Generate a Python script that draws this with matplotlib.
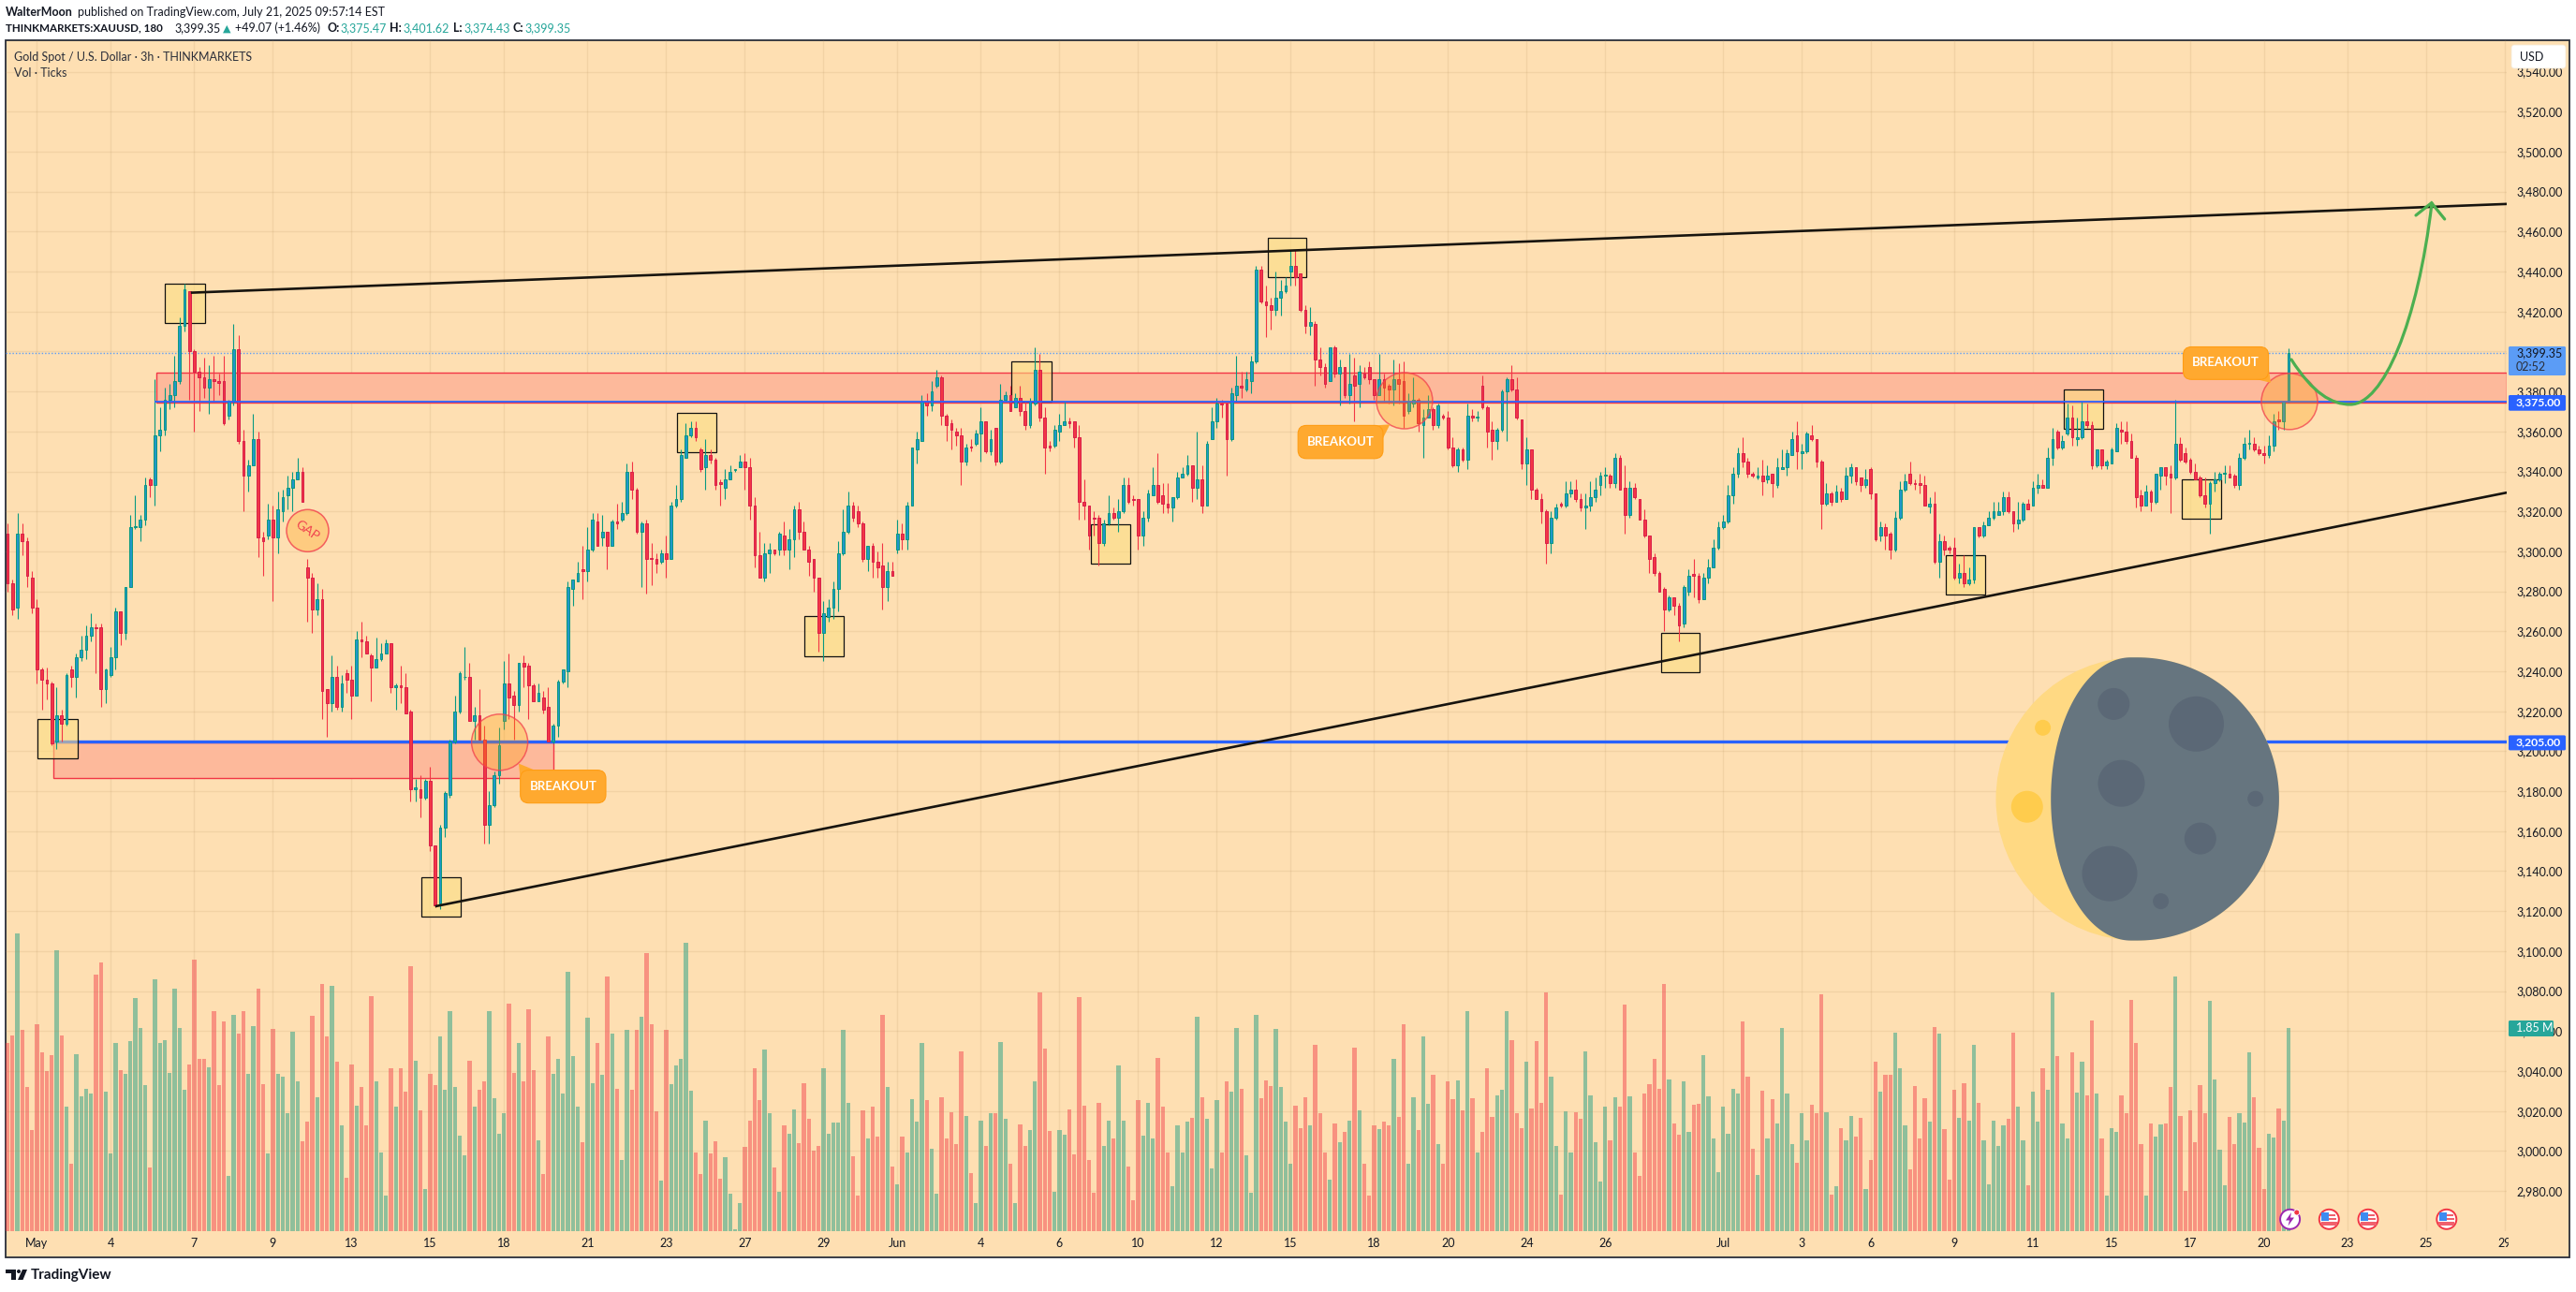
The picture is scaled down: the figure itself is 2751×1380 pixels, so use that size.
import numpy as np
import matplotlib
matplotlib.use("Agg")
import matplotlib.pyplot as plt
from matplotlib.patches import Rectangle, Circle, Polygon, FancyBboxPatch, PathPatch
from matplotlib.path import Path
from matplotlib.transforms import Affine2D

plt.rcParams['font.family'] = ['Lato', 'DejaVu Sans']

# 3h candles, ten per row
opens = [
    3309,3284,3272,3309,3305,3287,3272,3241,3236,3234,
    3205,3218,3214,3241,3237,3247,3251,3258,3262,3262,
    3231,3238,3247,3270,3259,3282,3312,3312,3316,3336,
    3333,3358,3361,3376,3378,3385,3413,3430,3400,3390,
    3387,3382,3386,3385,3385,3368,3375,3401,3355,3338,
    3343,3356,3307,3308,3316,3307,3320,3328,3332,3336,
    3340,3292,3287,3271,3276,3231,3224,3237,3222,3239,
    3236,3228,3256,3255,3248,3242,3246,3249,3254,3232,
    3233,3232,3220,3181,3181,3177,3185,3153,3124,3162,
    3178,3205,3220,3237,3237,3215,3218,3206,3163,3173,
    3188,3215,3234,3228,3223,3244,3243,3233,3225,3227,
    3222,3205,3213,3235,3240,3281,3285,3291,3290,3301,
    3315,3307,3310,3303,3315,3316,3319,3340,3331,3310,
    3314,3296.5,3296,3295,3299,3296,3323,3326,3347,3358,
    3362,3351,3342,3348,3346,3334.5,3332,3336,3340.5,3342,
    3345,3342,3323,3298,3287,3299,3301,3301,3308,3301,
    3306,3321,3310,3301,3296,3287,3259,3267,3272,3281,
    3299,3310,3323,3320,3314,3296,3303,3295,3293,3282,
    3290,3301,3309,3306,3323,3351,3355,3375,3373,3383,
    3387,3368,3364,3360,3358,3345,3352.5,3354,3359,3365,
    3350,3362,3345,3376,3378,3372,3377,3370,3363,3374,
    3391,3367,3353,3353,3360,3363,3365,3365,3357,3325,
    3323,3317,3317,3304,3314,3319,3317,3320,3333,3326,
    3326,3308,3317,3328,3333,3328,3324,3322,3327,3337,
    3339,3343,3332,3336,3323,3356,3365,3374,3374,3356,
    3378,3383,3381,3385,3395,3441,3425,3423,3421,3427,
    3430,3440,3443,3439,3421,3413,3414,3396,3392,3385,
    3402,3389,3392,3378,3388,3384,3389,3392,3386,3378,
    3386,3383,3381,3386,3385,3370,3374,3376,3363,3367,
    3371,3363,3368,3367,3352,3343,3351,3346,3368,3367,
    3383,3372,3361,3355,3361,3380,3386,3381,3366,3344,
    3351,3331,3326,3320,3304,3317,3324,3323,3329,3331,
    3326,3322,3323,3327,3333,3338,3338,3334,3347,3332,
    3318,3332,3326,3316,3308,3297,3289,3281,3271,3277,
    3273,3264,3280,3288.5,3288,3276,3287,3292,3302,3312,
    3315,3328,3339,3349,3345,3339,3337,3338,3336,3339,
    3333,3341,3342,3348,3358,3349,3350,3358,3356,3345,
    3324,3329,3325,3330,3326,3338,3342,3337,3333,3341,
    3329,3308,3312,3309,3301,3317,3331,3339,3334,3334,
    3333,3322.5,3324,3295,3305,3302,3302,3287,3289,3284,
    3286,3312,3308,3313,3317,3318,3320,3327,3320,3314,
    3316,3324,3323,3332,3333,3332,3347,3360,3352,3359,
    3367,3356,3357,3365,3363,3343,3351,3343,3344,3350,
    3361,3360,3355,3347,3328,3323,3330,3325,3338,3342,
    3339,3337,3354,3349,3346,3340,3337,3328,3324,3334,
    3336,3339,3339,3338,3333,3347,3354,3354,3351,3349,
    3348,3353,3366,3365,3375.47]
closes = [
    3284,3271,3309,3305,3288,3272,3241,3236,3234,3204,
    3218,3214,3238,3237,3247,3251,3258,3262,3261.5,3231,
    3241,3247,3270,3259,3282,3312,3312.5,3316,3333,3333,
    3358,3361,3376,3378,3385,3413,3431,3400,3390,3387,
    3382,3386,3385,3384.5,3364,3375,3401,3355,3338,3343,
    3356,3307,3305,3316,3307,3321,3327,3332,3336,3340,
    3325,3287,3271,3276,3230,3224,3237,3222,3234,3236,
    3228,3256,3255,3249,3242,3246,3249,3254,3232,3233,
    3232,3219,3181,3182,3177,3185,3153,3123,3162,3179,
    3205,3220,3239,3237,3215,3218,3206,3163,3173,3188,
    3203,3234,3227,3223,3244,3242.5,3233,3225,3229,3221,
    3205,3213,3235,3241,3282,3286,3289,3290,3301,3316,
    3303,3310,3303,3315,3314,3319,3340,3331,3310,3314,
    3296,3296,3294,3299,3296,3323,3326,3348,3358,3362,
    3357,3341,3348,3346,3333,3333.5,3336,3340,3341,3345,
    3342,3323,3298,3287,3299,3301,3299,3309,3301,3306,
    3321,3310,3301,3295,3287,3259,3269,3272,3281,3299,
    3310,3323,3317,3314,3296,3303,3295,3292,3282,3290,
    3288,3309,3306,3323,3352,3356,3375,3373,3380,3387,
    3368,3363,3361,3358,3345,3352,3352,3359,3365,3350,
    3356,3345,3376,3378,3370,3377,3370,3363,3375,3391,
    3367,3352,3352,3361,3363,3365,3364,3357,3325,3323,
    3308,3316.5,3304,3314,3319,3317,3320,3333,3325,3325.5,
    3308,3317,3329,3333,3325,3324,3322,3327,3337,3339,
    3343,3332,3336,3323,3354,3365,3374,3373.5,3356,3379,
    3383,3382,3386,3395,3441,3425,3423,3421,3427,3430,
    3433,3443,3437,3421,3413,3414.5,3396,3392,3384,3402,
    3389,3392,3378,3384,3383,3390,3387,3386,3378,3386,
    3382,3381,3386,3384,3368,3375,3376,3364,3367,3371,
    3363,3373,3367,3352,3343,3351,3346,3368,3367,3367.5,
    3372,3360,3355,3361,3380,3386,3381,3367,3344,3351,
    3331,3326,3320,3304,3317,3322,3323,3329,3331,3326,
    3322,3323,3327,3331,3338,3338.5,3334,3347,3331,3318,
    3332,3327,3316,3308,3296,3289,3280,3271,3277,3273,
    3263,3282,3288,3288,3276,3287,3292,3302,3312,3315,
    3328,3339,3349,3345,3339,3338,3338,3335,3338,3334,
    3342,3342,3349,3356,3350,3350,3359,3356,3345,3324,
    3329,3325,3330,3326,3338,3342,3335,3333,3336,3329,
    3306,3312,3308,3301,3317,3331,3335,3334,3333.5,3333,
    3323,3324,3295,3305,3301,3301,3287,3289,3284,3286,
    3312,3308,3313,3317,3320,3320,3327,3320,3314,3316,
    3324,3321,3332,3333,3332,3347,3356,3352,3355,3367,
    3357,3357,3365,3363,3343,3351,3343,3345,3351,3362,
    3360,3355,3347,3327,3323,3330,3325,3339,3342,3338,
    3337,3354,3346,3345,3340,3336,3328,3324,3334,3336,
    3339,3339.5,3337,3333,3347,3354,3354.5,3351,3349,3348,
    3353,3365,3365,3375,3399.35]
highs = [
    3314,3286,3319,3314,3307,3290,3276,3242,3242,3235,
    3232,3221,3239,3243,3249,3258,3263,3269,3264,3264,
    3241.5,3252,3272,3270,3282,3318,3328,3318,3337,3337,
    3386,3372,3382,3384,3398,3417,3434,3430,3401,3392,
    3397,3393,3398,3389,3398,3376,3414,3408,3361,3346,
    3369,3360,3310,3324,3323,3330,3331,3338,3340,3347,
    3342,3296,3289,3284,3281,3231,3248,3243,3238,3241,
    3243,3260,3265,3258,3249,3257,3254,3256,3254,3234,
    3243,3239,3221,3186,3188,3186,3192,3153,3163,3180,
    3206,3228,3240,3252,3244,3222,3231,3213,3180,3190,
    3212,3245,3249,3230,3244,3248,3244,3234,3234,3230,
    3232,3214,3236,3241,3285,3286,3295,3303,3312,3319,
    3319,3318,3310,3316,3324,3325,3344,3345,3332,3315,
    3316,3304,3299,3301,3308,3325,3333,3351,3364,3365,
    3365,3352,3356,3351,3347,3336,3341,3343,3341,3348,
    3349,3347,3327,3310,3304,3304,3301,3310,3315,3311,
    3323,3325,3315,3303,3296,3287,3275,3276,3285,3305,
    3321,3330,3325,3323,3315,3303,3304,3300,3304,3295,
    3295,3316,3314,3325,3352,3360,3378,3379,3385,3391,
    3388,3369,3366,3362,3362,3354,3356,3361,3372,3365,
    3361,3362,3384,3380,3383,3379,3383,3375,3377,3402,
    3399,3372,3355,3363,3369,3375,3367,3365,3363,3336,
    3323,3320,3318,3316,3328,3322,3326,3337,3337,3328,
    3326,3320,3331,3342,3349,3334,3334,3327,3340,3342,
    3348,3343,3360,3343,3355,3372,3377,3376,3374,3382,
    3398,3390,3390,3398,3443,3443,3433,3427,3440,3436,
    3437,3451,3451,3439,3423,3422,3415,3402,3394,3402,
    3403,3396,3392,3399,3397,3393,3392,3395,3386,3399,
    3389,3384,3396,3394,3395,3379,3387,3377,3371,3378,
    3372,3374,3369,3370,3357,3352,3352,3374,3371,3370,
    3388,3373,3365,3362,3381,3387,3393,3387,3366,3357,
    3351,3332,3329,3321,3320,3324,3325,3335,3335,3336,
    3329,3329,3335,3337,3340,3342,3339,3349,3348,3343,
    3335,3334,3326,3321,3308,3299,3290,3282,3278,3277,
    3274,3283,3291,3296,3289,3289,3296,3306,3315,3318,
    3333,3342,3352,3357,3347,3340,3342,3346,3343,3339,
    3347,3351,3351,3360,3365,3354,3360,3363,3356,3346,
    3334,3330,3333,3332,3342,3344,3342,3337,3341,3342,
    3329,3315,3314,3310,3320,3335,3339,3345,3336,3339,
    3338,3327,3330,3309,3308,3303,3307,3294,3298,3292,
    3312,3312,3315,3320,3325,3325,3330,3330,3320,3325,
    3325,3326,3335,3339,3336,3352,3362,3361,3358,3374,
    3373,3367,3375,3374,3365,3351,3351,3346,3352,3364,
    3365,3365,3359,3348,3331,3333,3331,3339,3342,3342,
    3343,3376,3357,3352,3347,3344,3338,3337,3335,3340,
    3340,3343,3343,3339,3349,3357,3361,3357,3353,3353,
    3358,3369,3370,3375,3401.62]
lows = [
    3280,3268,3266,3298,3282,3269,3234,3221,3226,3203,
    3201,3205,3213,3232,3227,3245,3246,3255,3239,3222,
    3224,3237,3241,3253,3256,3282,3311,3305,3313,3327,
    3323,3350,3358,3371,3372,3384,3410,3376,3360,3370,
    3377,3369,3375,3378,3363,3366,3373,3354,3320,3330,
    3343,3297,3288,3306,3275,3299,3315,3321,3320,3336,
    3325,3265,3259,3268,3216,3207,3220,3221,3220,3229,
    3216,3228,3247,3249,3225,3242,3245,3249,3229,3221,
    3224,3219,3175,3175,3167,3176,3150,3122,3121,3157,
    3177,3204,3219,3236,3215,3206,3206,3154,3154,3172,
    3184,3211,3216,3206,3220,3232,3216,3225,3225,3219,
    3205,3204,3207,3234,3232,3273,3285,3276,3285,3300,
    3303,3303,3291,3303,3311,3315,3318,3326,3309,3282,
    3279,3283,3289,3294,3287,3296,3322,3325,3347,3357,
    3355,3340,3331,3344,3331,3323,3326,3336,3340,3342,
    3331,3316,3292,3287,3285,3289,3298,3298,3298,3291,
    3297,3306,3301,3288,3280,3250,3245,3265,3266,3270,
    3298,3309,3315,3312,3295,3290,3287,3287,3271,3275,
    3288,3299,3301,3301,3323,3344,3355,3368,3370,3382,
    3363,3355,3351,3353,3333,3343,3350,3353,3345,3349,
    3348,3343,3344,3375,3370,3372,3368,3361,3362,3373,
    3365,3339,3350,3352,3355,3363,3362,3352,3316,3316,
    3301,3308,3293,3303,3313,3316,3310,3319,3324,3323,
    3301,3303,3315,3328,3324,3319,3319,3315,3326,3337,
    3338,3325,3326,3319,3323,3356,3362,3367,3338,3355,
    3375,3377,3380,3379,3394,3424,3407,3411,3418,3418,
    3429,3433,3433,3420,3409,3408,3383,3388,3382,3385,
    3387,3373,3377,3374,3365,3372,3386,3384,3376,3378,
    3375,3374,3373,3374,3362,3369,3372,3360,3347,3367,
    3361,3362,3366,3351,3342,3340,3345,3341,3365,3365,
    3371,3352,3346,3351,3360,3355,3380,3366,3341,3333,
    3326,3326,3314,3294,3299,3316,3322,3322,3327,3325,
    3320,3311,3320,3325,3328,3332,3332,3332,3331,3309,
    3317,3326,3316,3307,3289,3288,3280,3260,3270,3268,
    3255,3262,3278,3277,3274,3276,3284,3292,3301,3311,
    3314,3324,3337,3342,3337,3337,3336,3328,3334,3327,
    3332,3341,3338,3348,3341,3341,3349,3355,3342,3311,
    3323,3323,3325,3325,3326,3334,3333,3330,3332,3326,
    3305,3305,3301,3296,3300,3316,3330,3333,3331,3329,
    3323,3319,3294,3287,3298,3299,3286,3284,3282,3283,
    3284,3307,3307,3313,3316,3318,3318,3319,3310,3311,
    3315,3321,3323,3329,3332,3332,3343,3351,3351,3358,
    3353,3353,3356,3362,3341,3342,3341,3341,3344,3350,
    3354,3354,3347,3322,3320,3323,3320,3324,3331,3333,
    3319,3336,3345,3344,3339,3336,3327,3322,3309,3330,
    3335,3334,3337,3332,3331,3346,3351,3350,3348,3344,
    3347,3350,3361,3361,3374.43]
# volume in millions of ticks
volumes = [
    1.71,1.78,2.71,1.83,1.31,0.92,1.88,1.63,1.46,1.60,
    2.56,1.78,1.13,0.61,1.61,1.23,1.30,1.25,2.34,2.45,
    1.27,0.71,1.71,1.47,1.43,1.73,2.12,1.85,1.33,0.58,
    2.29,1.71,1.74,1.44,2.21,1.85,1.29,1.52,2.47,1.57,
    1.57,1.49,2.00,1.33,1.91,0.50,1.97,1.80,2.00,1.43,
    1.87,2.21,1.34,0.71,1.84,1.43,1.41,1.07,1.82,1.36,
    0.82,1.00,1.96,1.22,2.25,1.77,2.23,1.54,0.96,0.49,
    1.52,1.14,1.31,0.96,2.14,1.36,0.72,0.32,1.48,1.13,
    1.48,1.27,2.41,1.55,1.10,0.38,1.43,1.33,1.77,1.29,
    2.00,1.31,0.87,0.69,1.55,1.13,1.29,1.36,2.00,1.21,
    0.89,1.07,2.07,1.44,1.71,1.36,2.02,1.47,0.83,0.52,
    1.77,1.43,1.57,1.25,2.36,1.59,1.13,0.81,1.94,1.35,
    1.71,1.42,2.32,1.80,1.30,0.65,1.83,1.29,1.83,1.95,
    2.53,1.88,1.09,0.46,1.83,1.34,1.51,1.57,2.63,1.28,
    0.72,0.52,1.01,0.71,0.82,0.48,0.67,0.34,0.02,0.26,
    0.77,1.01,1.48,1.19,1.65,1.07,0.58,0.36,0.96,0.89,
    1.11,0.80,1.35,1.02,0.73,0.78,1.48,0.89,0.99,0.99,
    1.83,1.17,0.68,0.32,1.10,0.84,1.13,0.86,1.97,1.31,
    0.59,0.43,0.86,0.72,1.20,1.00,1.71,1.19,0.75,0.34,
    1.22,0.84,1.08,0.79,1.64,1.05,0.53,0.26,1.01,0.78,
    1.07,1.07,1.72,1.02,0.61,0.26,0.97,0.78,0.92,1.36,
    2.17,1.66,0.91,0.36,0.92,0.88,1.11,0.70,2.13,1.14,
    0.65,0.35,1.17,0.78,1.01,0.84,1.51,1.01,0.59,0.28,
    1.19,0.87,1.17,0.84,1.58,1.13,0.72,0.41,0.96,0.72,
    1.00,1.03,1.95,1.22,1.02,0.57,1.19,0.72,1.36,1.27,
    1.85,1.30,0.69,0.35,1.97,1.21,1.37,1.32,1.84,1.31,
    1.00,0.61,1.14,0.94,1.22,0.96,1.70,1.07,0.72,0.47,
    0.98,0.81,0.90,1.01,1.67,1.10,0.61,0.32,0.96,0.93,
    1.00,0.96,1.57,1.04,1.88,0.61,1.22,0.92,1.77,1.16,
    1.42,0.79,0.61,1.36,1.20,1.37,1.10,2.00,1.21,0.72,
    0.90,1.48,1.04,1.24,1.29,2.00,1.74,1.07,0.94,1.54,
    1.12,1.73,1.17,2.17,1.41,0.78,0.33,1.09,0.72,1.08,
    1.02,1.64,1.24,0.81,0.45,1.13,0.83,1.22,1.13,2.06,
    1.23,0.72,0.50,1.25,1.34,1.57,1.30,2.25,1.38,0.98,
    0.88,1.36,0.90,1.15,1.16,1.60,1.23,0.84,0.54,1.13,
    0.89,1.30,1.25,1.91,1.41,0.75,0.51,1.28,0.84,1.20,
    0.98,1.85,1.25,0.79,0.62,1.07,0.83,1.15,1.07,2.16,
    1.08,0.33,0.41,0.94,0.83,1.05,0.86,1.03,0.38,0.65,
    1.54,1.27,1.42,1.42,1.81,1.48,0.96,0.56,1.32,0.84,
    1.21,1.00,1.86,1.80,0.93,0.47,1.29,1.03,1.35,1.01,
    1.70,1.17,0.83,0.43,1.01,0.78,0.96,1.02,1.81,1.13,
    0.83,0.42,1.27,1.00,1.48,1.29,2.17,1.59,0.98,0.84,
    1.63,1.26,1.54,1.24,1.92,1.25,0.84,0.32,0.94,0.90,
    1.24,1.07,2.11,1.71,0.79,0.32,0.98,0.86,0.97,0.98,
    1.31,2.32,1.05,0.37,1.10,0.81,1.33,1.07,2.10,1.38,
    0.74,0.42,1.04,0.79,1.07,0.99,1.63,1.22,0.76,0.38,
    0.89,0.85,1.12,1.01,1.85]

price_ticks = list(range(2980, 3541, 20))
time_pos = [6, 21, 38, 54, 70, 86, 101, 118, 134, 150, 166, 181, 198, 214, 230, 246, 261,
            278, 293, 309, 325, 349, 365, 379, 396, 412, 428, 444, 459, 476, 492, 508]
time_labels = ['May', '4', '7', '9', '13', '15', '18', '21', '23', '27', '29', 'Jun', '4', '6', '10',
               '12', '15', '18', '20', '24', '26', 'Jul', '3', '6', '9', '11', '15', '17', '20',
               '23', '25', '29']

# drawings on the chart, in bar index and price
level_prices = [3375, 3205]
level_start = [30, 9.4]
zone_left = [30.2, 9.4]
zone_right = [508.4, 111]
zone_low = [3374.6, 3186.5]
zone_high = [3389.3, 3204.3]
trend_x = [[37.3, 508.4], [87, 508.4]]
trend_y = [[3429.4, 3473.8], [3122.4, 3329.4]]
box_left = [32, 6.1, 136.2, 84.1, 162.1, 204.2, 220.4, 256.3, 336.4, 394.3, 418.2, 442.2]
box_right = [40.2, 14.3, 144.2, 92.1, 170.1, 212.4, 228.4, 264.2, 344.2, 402.3, 426.2, 450.2]
box_top = [3434.0, 3215.9, 3369.3, 3136.8, 3267.5, 3395.1, 3313.6, 3456.7, 3259.0, 3298.1, 3380.8, 3335.9]
box_bottom = [3414.3, 3196.3, 3349.7, 3117.1, 3247.6, 3374.9, 3293.7, 3437.0, 3239.3, 3278.3, 3361.1, 3316.2]
last_price = 3399.35

W, H = 2751, 1380
first_x = 8
step = 5.25

BG = '#fedfb2'
TEXT = '#131722'
UP = '#089981'
DOWN = '#f23645'
BLUE = '#2962ff'

fig = plt.figure(figsize=(W / 100, H / 100), dpi=100, facecolor='white')
ax = fig.add_axes([6 / W, 1 - 1315 / H, (2677 - 6) / W, (1315 - 43) / H])
ax.patch.set_alpha(0)

# pixel coordinates of the picture, y going down
pix = Affine2D().scale(1, -1).translate(0, H)

fig.add_artist(Rectangle((6, 43), 2738, 1300, transform=pix, facecolor=BG, edgecolor='#2a2e39', lw=1.3, zorder=-5))

# volume shares the pane, 1.85M is 217 px tall
vol_ax = ax.twinx()
vol_ax.set_ylim(0, 1272 * 1.85 / 217)
vol_ax.axis('off')
vol_ax.set_zorder(ax.get_zorder() - 1)

ax.set_xlim((6 - first_x) / step, (2677 - first_x) / step)
ax.set_ylim(2959.9, 3555.7)
ax.yaxis.tick_right()
ax.set_yticks(price_ticks)
ax.set_yticklabels([f'{p:,.2f}' for p in price_ticks])
ax.set_xticks(time_pos)
ax.set_xticklabels(time_labels)
ax.tick_params(axis='y', length=0, pad=7.2, labelsize=9, labelcolor=TEXT)
ax.tick_params(axis='x', length=0, pad=5.2, labelsize=9, labelcolor=TEXT)
ax.grid(True, color='#b08a5a', alpha=0.15, lw=1)
ax.set_axisbelow(True)
for s in ax.spines.values():
    s.set_visible(False)

idx = np.arange(len(closes))
opens_a = np.array(opens)
closes_a = np.array(closes)
is_up = closes_a >= opens_a

vol_colors = np.where(is_up, UP, DOWN)
vol_ax.bar(idx, volumes, width=0.8, color=vol_colors, alpha=0.45, linewidth=0)

# zones go under the candles
for z in range(2):
    ax.add_patch(Rectangle((zone_left[z], zone_low[z]), zone_right[z] - zone_left[z], zone_high[z] - zone_low[z],
                           facecolor='#fdb99b', edgecolor=DOWN, lw=1.0, zorder=3))
for b in range(len(box_left)):
    ax.add_patch(Rectangle((box_left[b], box_bottom[b]), box_right[b] - box_left[b], box_top[b] - box_bottom[b],
                           facecolor=(0.99, 0.87, 0.5, 0.55), edgecolor='#111111', lw=0.9, zorder=3.1))

# candles
ax.vlines(idx, lows, highs, colors=np.where(is_up, UP, DOWN), lw=0.8, zorder=4)
body_bottom = np.minimum(opens_a, closes_a)
body_height = np.abs(closes_a - opens_a)
ax.bar(idx[is_up], body_height[is_up], bottom=body_bottom[is_up], width=0.5,
       color='#2196c9', edgecolor=UP, lw=0.7, zorder=4.1)
ax.bar(idx[~is_up], body_height[~is_up], bottom=body_bottom[~is_up], width=0.5,
       color=DOWN, edgecolor='#d81e4a', lw=0.7, zorder=4.1)

# level lines, last price, trend lines
ax.hlines(level_prices[0], level_start[0], zone_right[0], color=BLUE, lw=1.3, zorder=4.5)
ax.hlines(level_prices[1], level_start[1], zone_right[0], color=BLUE, lw=2.4, zorder=3.05)
ax.hlines(last_price, ax.get_xlim()[0], zone_right[0], color='#5b9cf6', lw=1, ls=(0, (1, 1.5)), zorder=2.9)
for t in range(2):
    ax.plot(trend_x[t], trend_y[t], color='#17140f', lw=1.9, zorder=5, solid_capstyle='butt')

# circles
for cx, cy in [(533.6, 792.8), (1499.9, 428), (2445, 428.8)]:
    ax.add_patch(Circle((cx, cy), 30, transform=pix, facecolor=(1, 0.6, 0, 0.28), edgecolor=(0.95, 0.25, 0.3, 0.75),
                        lw=1.1, zorder=5.2, clip_on=False))
ax.add_patch(Circle((328.5, 566.8), 22.5, transform=pix, facecolor=(1, 0.6, 0, 0.28), edgecolor=(0.95, 0.25, 0.3, 0.8),
                    lw=1.1, zorder=5.2, clip_on=False))
ax.text(328.5, 566.8, 'GAP', transform=pix, color='#f0444f', fontsize=10, rotation=-35,
        ha='center', va='center', zorder=5.3, rotation_mode='anchor')


def bubble(x0, y0, x1, y1, tip, base):
    ax.add_patch(Polygon([tip, base[0], base[1]], transform=pix, facecolor='#ffa92f', edgecolor='none',
                         zorder=5.4, clip_on=False))
    ax.add_patch(FancyBboxPatch((x0 + 7, y0 + 7), x1 - x0 - 14, y1 - y0 - 14, boxstyle='round,pad=7,rounding_size=9',
                                transform=pix, facecolor='#ffa92f', edgecolor='#ff9d14', lw=0.8, zorder=5.4, clip_on=False))
    ax.text((x0 + x1) / 2, (y0 + y1) / 2 - 0.5, 'BREAKOUT', transform=pix, color='white', fontsize=9.5, fontweight='bold',
            ha='center', va='center', zorder=5.5)


bubble(555.7, 822.6, 647, 857.7, (554, 815.6), [(556, 835), (572, 823)])
bubble(1386.2, 454.4, 1477, 489.8, (1484.4, 453.3), [(1460, 455), (1476, 470)])
bubble(2331.5, 370.5, 2422.6, 405.3, (2425, 408.8), [(2422, 388), (2405, 404)])

# green projection
green_path = Path([(2447, 384), (2470, 420), (2490, 432), (2510, 432), (2545, 432), (2582, 345), (2597, 217)],
                  [Path.MOVETO] + [Path.CURVE4] * 6)
ax.add_patch(PathPatch(green_path, transform=pix, facecolor='none', edgecolor='#4caf50', lw=2.3, zorder=5.6,
                       clip_on=False, capstyle='round'))
ax.plot([2580, 2596.7, 2610.7], [230, 216.7, 234], transform=pix, color='#4caf50', lw=2.3, zorder=5.6,
        solid_capstyle='round', solid_joinstyle='miter')

# moon
moon_x, moon_y, moon_r = 2282.7, 853.4, 151.2
ax.add_patch(Circle((moon_x, moon_y), moon_r, transform=pix, facecolor='#ffd983', edgecolor='none', zorder=6))
t = np.linspace(-np.pi / 2, np.pi / 2, 120)
off = 2275.5 - moon_x
right_edge = np.column_stack([moon_x + moon_r * np.cos(t), moon_y + moon_r * np.sin(t)])
t2 = np.linspace(np.pi / 2, -np.pi / 2, 120)
left_edge = np.column_stack([moon_x + off - 85.3 * np.cos(t2), moon_y + moon_r * np.sin(t2)])
ax.add_patch(Polygon(np.vstack([right_edge, left_edge]), transform=pix, facecolor='#66757f', edgecolor='none', zorder=6.1))
for cx, cy, r in [(2257.3, 751.9, 17), (2345.5, 773.3, 29.5), (2265.5, 836.7, 25), (2408.7, 853.2, 8.5),
                  (2349.8, 895.6, 17), (2253, 933.1, 29.5), (2307.6, 962.6, 8.5)]:
    ax.add_patch(Circle((cx, cy), r, transform=pix, facecolor='#5b6876', edgecolor='none', zorder=6.2))
for cx, cy, r in [(2181.6, 777.3, 8.5), (2164.8, 861.7, 17)]:
    ax.add_patch(Circle((cx, cy), r, transform=pix, facecolor='#ffcc4d', edgecolor='none', zorder=6.2))

# event icons under the last bars
ax.add_patch(Circle((2445.6, 1302.3), 10.5, transform=pix, facecolor='white', edgecolor='#9c27b0', lw=1.4, zorder=7, clip_on=False))
ax.add_patch(Polygon([(2447, 1295), (2441, 1303.5), (2445, 1303.5), (2443.5, 1309.5), (2450, 1300.5), (2446, 1300.5)],
                     transform=pix, facecolor='#9c27b0', edgecolor='none', zorder=7.1, clip_on=False))
ax.add_patch(Circle((2452.8, 1295), 3, transform=pix, facecolor=DOWN, edgecolor='white', lw=0.6, zorder=7.2, clip_on=False))
for fx in [2487.3, 2529, 2612.8]:
    ax.add_patch(Circle((fx, 1302.3), 10.5, transform=pix, facecolor='white', edgecolor=DOWN, lw=1.4, zorder=7, clip_on=False))
    ax.add_patch(Rectangle((fx - 8.5, 1305), 17, 4, transform=pix, facecolor='#f0616d', edgecolor='none', zorder=7.1, clip_on=False))
    ax.add_patch(Rectangle((fx - 8, 1295), 8, 8.5, transform=pix, facecolor='#3d8bf0', edgecolor='none', zorder=7.1, clip_on=False))
    ax.add_patch(Rectangle((fx, 1301), 8, 2.2, transform=pix, facecolor='#f0616d', edgecolor='none', zorder=7.1, clip_on=False))
    ax.add_patch(Rectangle((fx, 1296.5), 7, 2.2, transform=pix, facecolor='#f0616d', edgecolor='none', zorder=7.1, clip_on=False))

# cover the clipped last time label
ax.add_patch(Rectangle((2679, 1316), 64, 25, transform=pix, facecolor=BG, edgecolor='none', zorder=7, clip_on=False))


def price_tag(y0, y1, x1, color):
    ax.add_patch(FancyBboxPatch((2680, y0 + 1), x1 - 2680, y1 - y0 - 2, boxstyle='round,pad=1,rounding_size=1.5', transform=pix,
                                facecolor=color, edgecolor='none', zorder=8, clip_on=False))


def label(x, y, s, color=TEXT, size=9, weight='normal', ha='left', zorder=9):
    fig.text(x / W, 1 - y / H, s, color=color, fontsize=size, fontweight=weight, ha=ha, va='center', zorder=zorder)


price_tag(370, 401, 2739, '#5b9cf6')
price_tag(422, 438.7, 2739, BLUE)
price_tag(785.4, 801.4, 2739, BLUE)
price_tag(1090, 1107, 2726, '#26a69a')
ax.add_patch(FancyBboxPatch((2685, 51), 52, 19, boxstyle='round,pad=3,rounding_size=3', transform=pix,
                            facecolor='white', edgecolor='#f5ead8', lw=0.6, zorder=8, clip_on=False))
label(2687, 377.5, '3,399.35')
label(2687, 391.5, '02:52', color='#2a2e39')
label(2687, 430, '3,375.00', color='white', weight='bold', size=8.8)
label(2687, 793, '3,205.00', color='white', weight='bold', size=8.8)
label(2687, 1098, '1.85 M', color='white')
label(2691, 61, 'USD')

# header
label(6, 13, 'WalterMoon', weight='bold')
label(83, 13, 'published on TradingView.com, July 21, 2025 09:57:14 EST')
label(6, 30, 'THINKMARKETS:XAUUSD, 180', weight='bold', size=8.4)
label(186.6, 30, '3,399.35')
label(238, 30, '▲', color='#26a69a', size=8)
label(251, 30, '+49.07 (+1.46%)')
for lx, letter, vx, val in [(349, 'O:', 363, '3,375.47'), (416, 'H:', 430.5, '3,401.62'),
                            (484, 'L:', 495, '3,374.43'), (548, 'C:', 560, '3,399.35')]:
    label(lx, 30, letter, weight='bold')
    label(vx, 30, val, color='#26a69a')
label(15, 61, 'Gold Spot / U.S. Dollar · 3h · THINKMARKETS', color='#2a2e39')
label(15, 78, 'Vol · Ticks', color='#2a2e39')

# TradingView mark
ax.add_patch(Polygon([(6, 1356), (17, 1356), (17, 1367), (11.5, 1367), (11.5, 1360), (6, 1360)], transform=pix,
                     facecolor=TEXT, edgecolor='none', clip_on=False, zorder=9))
ax.add_patch(Circle((20, 1358), 2, transform=pix, facecolor=TEXT, edgecolor='none', clip_on=False, zorder=9))
ax.add_patch(Polygon([(24, 1356), (29, 1356), (24.5, 1367), (19, 1367)], transform=pix,
                     facecolor=TEXT, edgecolor='none', clip_on=False, zorder=9))
label(33, 1362, 'TradingView', weight='bold', size=11)

fig.savefig('out.png', dpi=100)
